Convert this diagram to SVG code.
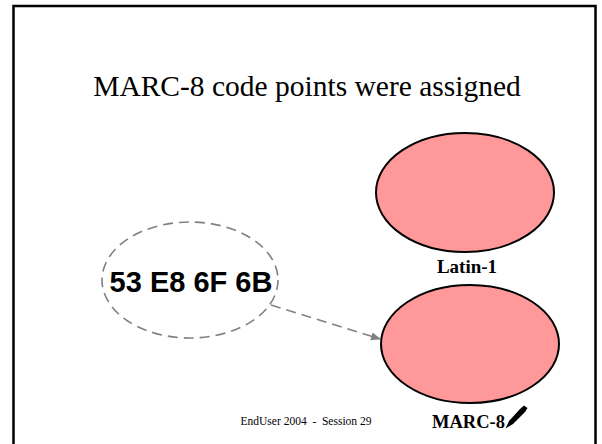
<svg xmlns="http://www.w3.org/2000/svg" width="602" height="444" viewBox="0 0 602 444">
<style>
.serif{font-family:"Liberation Serif","Times New Roman",serif;fill:#000}
.set{fill:#FF9999;stroke:#000;stroke-width:2}
.conn{fill:none;stroke:#808080;stroke-width:1.6;stroke-dasharray:10 6}
</style>
<defs>
<marker id="ah" viewBox="0 0 10 10" refX="9" refY="5" markerWidth="10" markerHeight="10" markerUnits="userSpaceOnUse" orient="auto">
<path d="M0,1 L10,5 L0,9 Z" fill="#808080"/>
</marker>
</defs>
<rect width="602" height="444" fill="#fff"/>
<rect x="13.5" y="6" width="582" height="460" fill="none" stroke="#000" stroke-width="2.5"/>
<text class="serif" x="307" y="96" font-size="29.5" text-anchor="middle">MARC-8 code points were assigned</text>
<g id="latin1">
<ellipse class="set" cx="465" cy="192.5" rx="89" ry="59.5"/>
<text class="serif" x="467" y="273" font-size="19" font-weight="bold" text-anchor="middle">Latin-1</text>
</g>
<g id="marc8">
<ellipse class="set" cx="470" cy="344" rx="89" ry="59"/>
<text class="serif" x="468.5" y="428" font-size="18.5" font-weight="bold" text-anchor="middle">MARC-8</text>
<path d="M505.5,428.5 L509,421 L520,409 L524,405.5 L527.5,408 L525,412 L513,424 Z" fill="#000"/>
</g>
<g id="code">
<ellipse cx="190" cy="280" rx="88" ry="58" fill="none" stroke="#808080" stroke-width="1.6" stroke-dasharray="10 6"/>
<text x="191" y="292" font-family="Liberation Sans, Arial, sans-serif" font-size="29" font-weight="bold" text-anchor="middle" fill="#000">53 E8 6F 6B</text>
</g>
<g id="connectors">
<line class="conn" x1="271" y1="305" x2="380" y2="339" marker-end="url(#ah)"/>
</g>
<text class="serif" x="306" y="425" font-size="11.5" text-anchor="middle" xml:space="preserve">EndUser 2004  -  Session 29</text>
</svg>
